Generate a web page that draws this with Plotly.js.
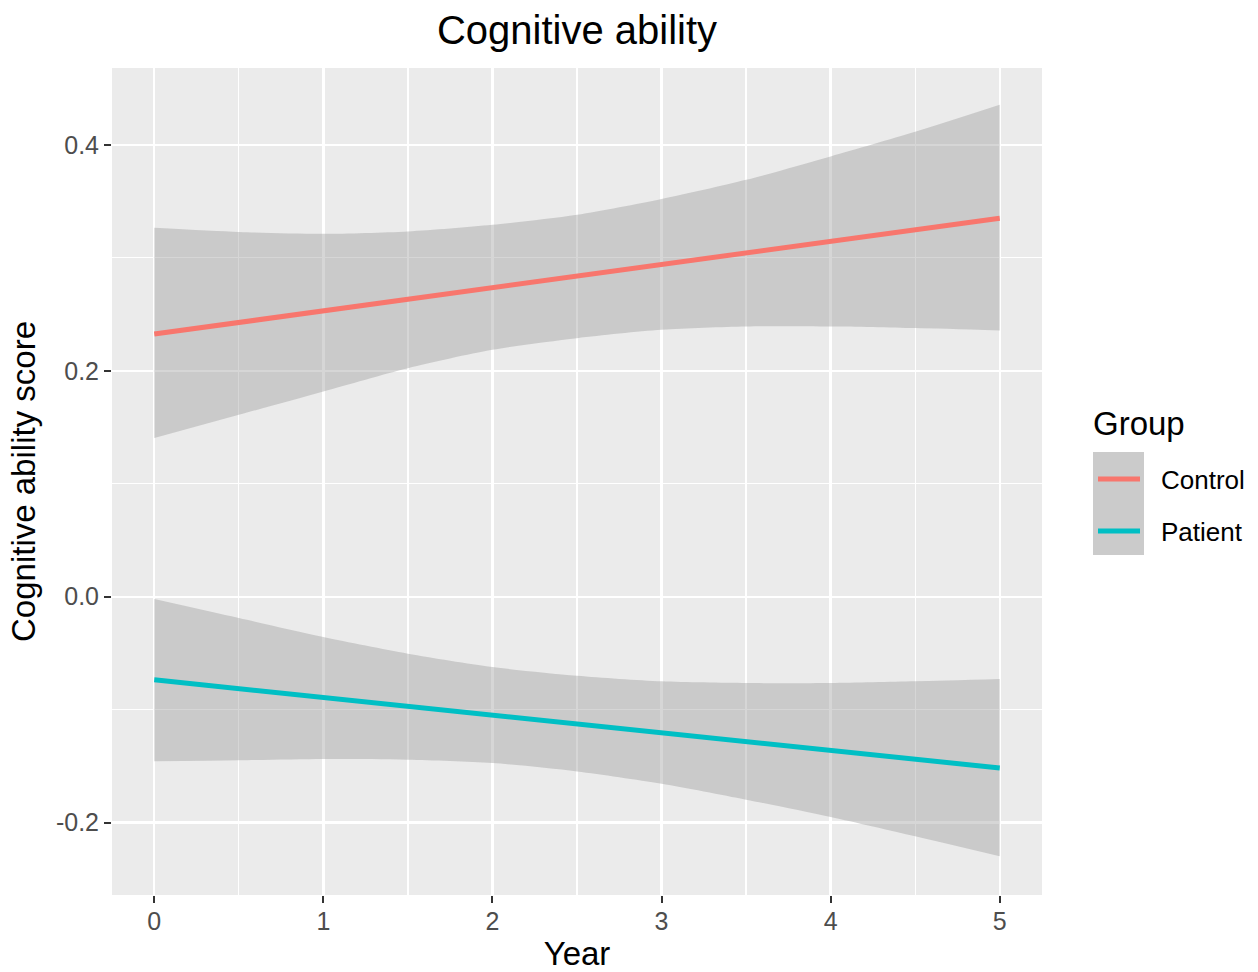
<!DOCTYPE html>
<html>
<head>
<meta charset="utf-8">
<script src="https://cdn.plot.ly/plotly-3.0.1.min.js"></script>
<style>html,body{margin:0;padding:0;background:#fff;}#chart{width:1258px;height:972px;}</style>
</head>
<body>
<div id="chart"></div>
<script>
// ---- data ----
const legendTitle = "Group";
const groups = ["Control", "Patient"];
const groupColors = ["#F8766D", "#00BFC4"];
const fitYears = [0, 5];
const controlFit = [0.2325, 0.3351];
const patientFit = [-0.0735, -0.1516];
const bandYears = [0, 0.5, 1, 1.5, 2, 2.5, 3, 3.5, 4, 4.5, 5];
const controlUpper = [0.3265, 0.3228, 0.3212, 0.3233, 0.3292, 0.338, 0.352, 0.369, 0.3897, 0.4115, 0.4354];
const controlLower = [0.1404, 0.161, 0.1817, 0.2023, 0.2186, 0.2289, 0.2363, 0.2392, 0.2392, 0.2378, 0.2357];
const patientUpper = [-0.0021, -0.0189, -0.0357, -0.0504, -0.0622, -0.0699, -0.0749, -0.0764, -0.0764, -0.0749, -0.0729];
const patientLower = [-0.1457, -0.1448, -0.1436, -0.1442, -0.1472, -0.1546, -0.1655, -0.1796, -0.195, -0.2121, -0.2298];
const xTickVals = [0, 1, 2, 3, 4, 5];
const xTickText = ["0", "1", "2", "3", "4", "5"];
const xMinorVals = [0.5, 1.5, 2.5, 3.5, 4.5];
const yTickVals = [-0.2, 0.0, 0.2, 0.4];
const yTickText = ["-0.2", "0.0", "0.2", "0.4"];
const yMinorVals = [-0.1, 0.1, 0.3];

const FONT = "Liberation Sans, Arial, Helvetica, sans-serif";
const bandFill = "rgba(153,153,153,0.4)";

function bandTraces(upper, lower, name) {
  const common = {type: "scatter", mode: "lines", x: bandYears,
    line: {width: 0, color: "rgba(0,0,0,0)", shape: "spline", smoothing: 0.8},
    showlegend: false, hoverinfo: "skip"};
  return [
    Object.assign({}, common, {name: name + " lower", y: lower}),
    Object.assign({}, common, {name: name + " upper", y: upper, fill: "tonexty", fillcolor: bandFill})
  ];
}

const traces = [].concat(
  bandTraces(controlUpper, controlLower, groups[0]),
  bandTraces(patientUpper, patientLower, groups[1]),
  [
    {type: "scatter", mode: "lines", name: groups[0], showlegend: false,
     x: fitYears, y: controlFit, line: {color: groupColors[0], width: 5}},
    {type: "scatter", mode: "lines", name: groups[1], showlegend: false,
     x: fitYears, y: patientFit, line: {color: groupColors[1], width: 5}}
  ]
);

// legend geometry (pixels), converted to paper coordinates
const PL = 112, PR = 1042, PT = 68, PB = 895;
const px = v => (v - PL) / (PR - PL);
const py = v => (PB - v) / (PB - PT);
const keyRows = [479, 531];

const shapes = [
  {type: "rect", xref: "paper", yref: "paper",
   x0: px(1093), x1: px(1144), y0: py(555), y1: py(452),
   fillcolor: "#CBCBCB", line: {width: 0}, layer: "above"}
];
const annotations = [
  {xref: "paper", yref: "paper", x: px(1091), y: py(423), xanchor: "left", yanchor: "middle",
   text: legendTitle, showarrow: false, font: {size: 33, color: "#000000", family: FONT}}
];
groups.forEach((g, i) => {
  shapes.push({type: "line", xref: "paper", yref: "paper",
    x0: px(1098), x1: px(1140), y0: py(keyRows[i]), y1: py(keyRows[i]),
    line: {color: groupColors[i], width: 5}, layer: "above"});
  annotations.push({xref: "paper", yref: "paper", x: px(1159), y: py(keyRows[i] + 1),
    xanchor: "left", yanchor: "middle", text: g, showarrow: false,
    font: {size: 26, color: "#000000", family: FONT}});
});

const layout = {
  width: 1258, height: 972,
  margin: {l: PL, r: 1258 - PR, t: PT, b: 972 - PB},
  paper_bgcolor: "#FFFFFF",
  plot_bgcolor: "#EBEBEB",
  font: {family: FONT, color: "#000000"},
  title: {text: "Cognitive ability", font: {size: 40, color: "#000000", family: FONT},
          x: 0.4587, xanchor: "center", y: 0.969, yanchor: "middle"},
  xaxis: {
    range: [-0.25, 5.25], tickmode: "array", tickvals: xTickVals, ticktext: xTickText,
    showgrid: true, gridcolor: "#FFFFFF", gridwidth: 2.4, zeroline: false,
    ticks: "outside", ticklen: 7, tickwidth: 2, tickcolor: "#333333",
    tickfont: {size: 25, color: "#4D4D4D", family: FONT}, ticklabelstandoff: -3,
    minor: {tickmode: "array", tickvals: xMinorVals, showgrid: true, gridcolor: "#FFFFFF", gridwidth: 1.2, ticks: ""},
    title: {text: "Year", font: {size: 33, color: "#000000", family: FONT}, standoff: 8},
    showline: false, fixedrange: true
  },
  yaxis: {
    range: [-0.264, 0.468], tickmode: "array", tickvals: yTickVals, ticktext: yTickText,
    showgrid: true, gridcolor: "#FFFFFF", gridwidth: 2.4, zeroline: false,
    ticks: "outside", ticklen: 7, tickwidth: 2, tickcolor: "#333333",
    tickfont: {size: 25, color: "#4D4D4D", family: FONT}, ticklabelstandoff: 0,
    minor: {tickmode: "array", tickvals: yMinorVals, showgrid: true, gridcolor: "#FFFFFF", gridwidth: 1.2, ticks: ""},
    title: {text: "Cognitive ability score", font: {size: 33, color: "#000000", family: FONT}, standoff: 10},
    showline: false, fixedrange: true
  },
  shapes: shapes,
  annotations: annotations,
  showlegend: false
};

Plotly.newPlot("chart", traces, layout, {displayModeBar: false, staticPlot: true});
</script>
</body>
</html>
